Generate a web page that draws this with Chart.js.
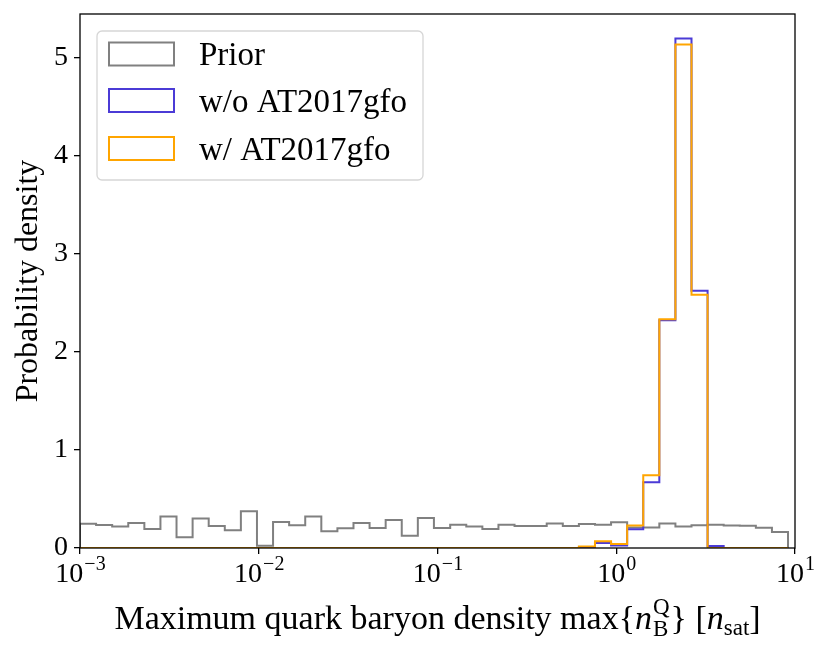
<!DOCTYPE html>
<html>
<head>
<meta charset="utf-8">
<script src="https://cdn.jsdelivr.net/npm/chart.js@4.4.1/dist/chart.umd.min.js"></script>
<style>
  html, body { margin: 0; padding: 0; background: #fff; }
</style>
</head>
<body>
<canvas id="grafico" width="831" height="652"></canvas>
<script>
// bordas dos bins (expoente de 10)
var binExp = [-3.000, -2.910, -2.820, -2.730, -2.640, -2.550, -2.460, -2.370, -2.280, -2.190,
              -2.100, -2.010, -1.920, -1.830, -1.740, -1.650, -1.560, -1.470, -1.380, -1.290,
              -1.200, -1.110, -1.020, -0.929, -0.839, -0.749, -0.659, -0.569, -0.479, -0.389,
              -0.299, -0.209, -0.119, -0.029, 0.061, 0.151, 0.241, 0.331, 0.421, 0.511,
              0.601, 0.691, 0.781, 0.871, 0.961];

var priorDens = [0.248, 0.235, 0.218, 0.255, 0.194, 0.320, 0.109, 0.300, 0.224, 0.180,
                 0.374, 0.024, 0.265, 0.231, 0.320, 0.170, 0.200, 0.255, 0.204, 0.286,
                 0.126, 0.306, 0.204, 0.238, 0.218, 0.194, 0.238, 0.224, 0.224, 0.250,
                 0.224, 0.245, 0.238, 0.262, 0.210, 0.210, 0.250, 0.218, 0.232, 0.238,
                 0.230, 0.226, 0.207, 0.162];

var semAT = [0, 0, 0, 0, 0, 0, 0, 0, 0, 0,
             0, 0, 0, 0, 0, 0, 0, 0, 0, 0,
             0, 0, 0, 0, 0, 0, 0, 0, 0, 0,
             0, 0.005, 0.050, 0.025, 0.190, 0.670, 2.320, 5.190, 2.620, 0.020,
             0, 0, 0, 0];

var comAT = [0, 0, 0, 0, 0, 0, 0, 0, 0, 0,
             0, 0, 0, 0, 0, 0, 0, 0, 0, 0,
             0, 0, 0, 0, 0, 0, 0, 0, 0, 0,
             0, 0.015, 0.070, 0.040, 0.230, 0.740, 2.330, 5.130, 2.580, 0,
             0, 0, 0, 0];

var xTicks = [0.001, 0.01, 0.1, 1, 10];
var xTickExp = ["\u22123", "\u22122", "\u22121", "0", "1"];
var yTicks = [0, 1, 2, 3, 4, 5];

var rotulos = ["Prior", "w/o AT2017gfo", "w/ AT2017gfo"];
var cores = ["#808080", "#4b3bd6", "#ffa500"];

var FONTE = "'Liberation Serif', 'DejaVu Serif', serif";

// pontos de um histograma em degraus
function degraus(valores) {
    var pts = [{ x: Math.pow(10, binExp[0]), y: 0 }];
    for (var i = 0; i < valores.length; i++) {
        pts.push({ x: Math.pow(10, binExp[i]), y: valores[i] });
    }
    pts.push({ x: Math.pow(10, binExp[binExp.length - 1]), y: 0 });
    return pts;
}

function serie(idx, valores, ordem) {
    return {
        label: rotulos[idx],
        data: degraus(valores),
        borderColor: cores[idx],
        backgroundColor: "transparent",
        borderWidth: 2,
        stepped: true,
        pointRadius: 0,
        fill: false,
        order: ordem
    };
}

var pluginMoldura = {
    id: "moldura",
    afterDraw: function (chart) {
        var ctx = chart.ctx;
        var a = chart.chartArea;
        ctx.save();

        // moldura
        ctx.strokeStyle = "#000";
        ctx.lineWidth = 1.3;
        ctx.strokeRect(a.left, a.top, a.right - a.left, a.bottom - a.top);

        // rótulos do eixo x: 10^n
        var sx = chart.scales.x;
        ctx.fillStyle = "#000";
        ctx.textBaseline = "alphabetic";
        ctx.textAlign = "left";
        for (var i = 0; i < xTicks.length; i++) {
            var px = sx.getPixelForValue(xTicks[i]);
            ctx.font = "28px " + FONTE;
            var wBase = ctx.measureText("10").width;
            ctx.font = "20px " + FONTE;
            var wExp = ctx.measureText(xTickExp[i]).width;
            var x0 = px - (wBase + wExp) / 2;
            ctx.font = "28px " + FONTE;
            ctx.fillText("10", x0, 582);
            ctx.font = "20px " + FONTE;
            ctx.fillText(xTickExp[i], x0 + wBase + 1, 570);
        }

        // título do eixo x com índices
        var partes = [
            { t: "Maximum quark baryon density max{", f: "34px " + FONTE, dy: 0 },
            { t: "n", f: "italic 34px " + FONTE, dy: 0 },
            { sup: "Q", sub: "B", f: "23px " + FONTE },
            { t: "} [", f: "34px " + FONTE, dy: 0 },
            { t: "n", f: "italic 34px " + FONTE, dy: 0 },
            { t: "sat", f: "23px " + FONTE, dy: 6 },
            { t: "]", f: "34px " + FONTE, dy: 0 }
        ];
        var total = 0;
        partes.forEach(function (p) {
            ctx.font = p.f;
            if (p.sup) {
                p.w = Math.max(ctx.measureText(p.sup).width, ctx.measureText(p.sub).width) + 2;
            } else {
                p.w = ctx.measureText(p.t).width;
            }
            total += p.w;
        });
        var cx = (a.left + a.right) / 2 - total / 2;
        var base = 629;
        partes.forEach(function (p) {
            ctx.font = p.f;
            if (p.sup) {
                ctx.fillText(p.sup, cx + 1, base - 15);
                ctx.fillText(p.sub, cx + 1, base + 7);
            } else {
                ctx.fillText(p.t, cx, base + p.dy);
            }
            cx += p.w;
        });

        // legenda
        var lx = 97, ly = 31, lw = 326, lh = 149, r = 5;
        ctx.beginPath();
        ctx.moveTo(lx + r, ly);
        ctx.arcTo(lx + lw, ly, lx + lw, ly + lh, r);
        ctx.arcTo(lx + lw, ly + lh, lx, ly + lh, r);
        ctx.arcTo(lx, ly + lh, lx, ly, r);
        ctx.arcTo(lx, ly, lx + lw, ly, r);
        ctx.closePath();
        ctx.fillStyle = "rgba(255,255,255,0.8)";
        ctx.fill();
        ctx.strokeStyle = "#d6d6d6";
        ctx.lineWidth = 1.3;
        ctx.stroke();

        var linhasY = [54, 100.5, 148.5];
        chart.data.datasets.forEach(function (ds, k) {
            var cy = linhasY[k];
            ctx.strokeStyle = ds.borderColor;
            ctx.lineWidth = 2;
            ctx.strokeRect(109, cy - 11.5, 65, 23);
            ctx.fillStyle = "#000";
            ctx.font = "33px " + FONTE;
            ctx.textBaseline = "alphabetic";
            ctx.fillText(ds.label, 199, cy + 11);
        });

        ctx.restore();
    }
};

var ctx = document.getElementById("grafico").getContext("2d");

var grafico = new Chart(ctx, {
    type: "line",
    data: {
        datasets: [
            serie(0, priorDens, 3),
            serie(1, semAT, 2),
            serie(2, comAT, 1)
        ]
    },
    options: {
        responsive: false,
        animation: false,
        devicePixelRatio: 1,
        layout: { padding: { top: 14, right: 36, left: 0, bottom: 0 } },
        plugins: {
            legend: { display: false },
            tooltip: { enabled: false }
        },
        scales: {
            x: {
                type: "logarithmic",
                min: 0.001,
                max: 10,
                border: { display: false },
                grid: {
                    drawOnChartArea: false,
                    drawTicks: true,
                    tickLength: 6,
                    color: "#000",
                    lineWidth: 1.3
                },
                ticks: { display: false },
                afterBuildTicks: function (scale) {
                    scale.ticks = xTicks.map(function (v) { return { value: v }; });
                },
                afterFit: function (scale) {
                    scale.height = 104;
                    scale.paddingLeft = 0;
                    scale.paddingRight = 0;
                }
            },
            y: {
                min: 0,
                max: 5.44,
                border: { display: false },
                grid: {
                    drawOnChartArea: false,
                    drawTicks: true,
                    tickLength: 6,
                    color: "#000",
                    lineWidth: 1.3
                },
                ticks: {
                    color: "#000",
                    padding: 6,
                    font: { family: FONTE, size: 28 }
                },
                afterBuildTicks: function (scale) {
                    scale.ticks = yTicks.map(function (v) { return { value: v }; });
                },
                title: {
                    display: true,
                    text: "Probability density",
                    color: "#000",
                    font: { family: FONTE, size: 32 },
                    padding: { top: 9, bottom: 0 }
                },
                afterFit: function (scale) {
                    scale.width = 80;
                    scale.paddingTop = 0;
                    scale.paddingBottom = 0;
                }
            }
        }
    },
    plugins: [pluginMoldura]
});
</script>
</body>
</html>
